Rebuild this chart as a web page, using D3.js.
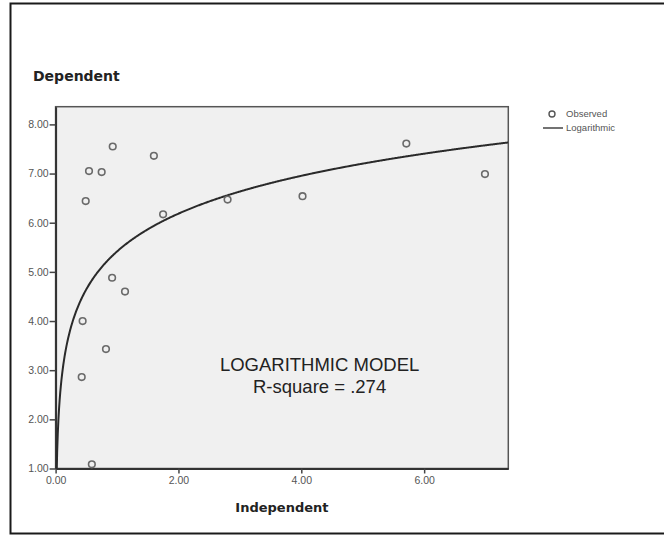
<!DOCTYPE html>
<html>
<head>
<meta charset="utf-8">
<script src="https://cdn.jsdelivr.net/npm/d3@7"></script>
<style>
  body { margin: 0; background: #fff; }
  svg { display: block; }
</style>
</head>
<body>
<div id="chart"></div>
<script>
const independent = [0.93, 1.60, 0.544, 0.75, 0.49, 1.75, 2.80, 0.92, 1.13, 0.44, 0.82, 0.425, 0.59, 4.02, 5.71, 6.99];
const dependent   = [7.55, 7.36, 7.05, 7.03, 6.44, 6.17, 6.47, 4.88, 4.60, 4.00, 3.43, 2.86, 1.085, 6.54, 7.61, 6.99];

// Ticks y etiquetas
const xTicks = [0, 2, 4, 6];
const yTicks = [1, 2, 3, 4, 5, 6, 7, 8];
const xDomain = [0, 7.37];
const yDomain = [1, 8.36];
const legendLabels = ["Observed", "Logarithmic"];
const modelLines = ["LOGARITHMIC MODEL", "R-square = .274"];

const points = independent.map((x, i) => ({ x, y: dependent[i] }));

// Ajuste logarítmico y = b0 + b1*ln(x) por mínimos cuadrados
const lx = points.map(d => Math.log(d.x));
const mx = d3.mean(lx);
const my = d3.mean(dependent);
const sxy = d3.sum(points, (d, i) => (lx[i] - mx) * (d.y - my));
const sxx = d3.sum(lx, v => (v - mx) * (v - mx));
const b1 = sxy / sxx;
const b0 = my - b1 * mx;

const width = 664;
const height = 537;
const margin = { top: 106.7, right: 155.7, bottom: 68.5, left: 55.6 };
const chartWidth = width - margin.left - margin.right;
const chartHeight = height - margin.top - margin.bottom;

const svg = d3.select("#chart")
    .append("svg")
    .attr("width", width)
    .attr("height", height);

// Marco exterior
svg.append("rect")
    .attr("x", 10.5)
    .attr("y", 3.5)
    .attr("width", 700)
    .attr("height", 530)
    .attr("fill", "none")
    .attr("stroke", "#1a1a1a")
    .attr("stroke-width", 2);

const g = svg.append("g")
    .attr("transform", `translate(${margin.left},${margin.top})`);

const xScale = d3.scaleLinear().domain(xDomain).range([0, chartWidth]);
const yScale = d3.scaleLinear().domain(yDomain).range([chartHeight, 0]);

// Fondo del área del gráfico
g.append("rect")
    .attr("width", chartWidth)
    .attr("height", chartHeight)
    .attr("fill", "#f0f0f0")
    .attr("stroke", "#555")
    .attr("stroke-width", 1.5);

g.append("defs").append("clipPath")
    .attr("id", "clip")
    .append("rect")
    .attr("width", chartWidth)
    .attr("height", chartHeight);

// Ejes
const xAxis = d3.axisBottom(xScale)
    .tickValues(xTicks)
    .tickFormat(d3.format(".2f"))
    .tickSizeInner(5)
    .tickSizeOuter(0);
const yAxis = d3.axisLeft(yScale)
    .tickValues(yTicks)
    .tickFormat(d3.format(".2f"))
    .tickSizeInner(6)
    .tickSizeOuter(0);

const gx = g.append("g")
    .attr("transform", `translate(0,${chartHeight})`)
    .call(xAxis);
const gy = g.append("g").call(yAxis);

[gx, gy].forEach(ax => {
    ax.select(".domain").attr("stroke", "#333").attr("stroke-width", 2);
    ax.selectAll(".tick line").attr("stroke", "#444").attr("stroke-width", 1.5);
    ax.selectAll(".tick text")
        .attr("fill", "#555")
        .style("font-family", "'Liberation Sans', Arial, sans-serif")
        .style("font-size", "10.5px");
});
gx.selectAll(".tick text").attr("dy", "0.9em").attr("y", 6);
gy.selectAll(".tick text").attr("x", -7);

// Curva del modelo
const curveXs = d3.range(0.005, xDomain[1] + 0.001, 0.01);
const line = d3.line()
    .x(d => xScale(d))
    .y(d => yScale(b0 + b1 * Math.log(d)));

g.append("path")
    .datum(curveXs)
    .attr("clip-path", "url(#clip)")
    .attr("fill", "none")
    .attr("stroke", "#2a2a2a")
    .attr("stroke-width", 2)
    .attr("d", line);

// Puntos observados
g.selectAll(".pt")
    .data(points)
    .enter()
    .append("circle")
    .attr("class", "pt")
    .attr("cx", d => xScale(d.x))
    .attr("cy", d => yScale(d.y))
    .attr("r", 3.3)
    .attr("fill", "none")
    .attr("stroke", "#6a6a6a")
    .attr("stroke-width", 1.6);

// Texto del modelo
g.selectAll(".model-text")
    .data(modelLines)
    .enter()
    .append("text")
    .attr("class", "model-text")
    .attr("x", 264)
    .attr("y", (d, i) => 264.5 + i * 22)
    .attr("text-anchor", "middle")
    .attr("fill", "#222")
    .style("font-family", "'Liberation Sans', Arial, sans-serif")
    .style("font-size", "18.5px")
    .text(d => d);

// Títulos de ejes
svg.append("text")
    .attr("x", 33)
    .attr("y", 81)
    .attr("fill", "#222")
    .style("font-family", "'DejaVu Sans', sans-serif")
    .style("font-weight", "bold")
    .style("font-size", "14px")
    .text("Dependent");

svg.append("text")
    .attr("x", margin.left + chartWidth / 2)
    .attr("y", 512)
    .attr("text-anchor", "middle")
    .attr("fill", "#222")
    .style("font-family", "'DejaVu Sans', sans-serif")
    .style("font-weight", "bold")
    .style("font-size", "13px")
    .text("Independent");

// Leyenda
const legend = svg.append("g")
    .attr("transform", "translate(543,114)");

legend.append("circle")
    .attr("cx", 9)
    .attr("cy", 0)
    .attr("r", 3)
    .attr("fill", "none")
    .attr("stroke", "#555")
    .attr("stroke-width", 1.4);

legend.append("line")
    .attr("x1", 0)
    .attr("x2", 20)
    .attr("y1", 14)
    .attr("y2", 14)
    .attr("stroke", "#444")
    .attr("stroke-width", 1.5);

legend.selectAll(".legend-text")
    .data(legendLabels)
    .enter()
    .append("text")
    .attr("class", "legend-text")
    .attr("x", 23)
    .attr("y", (d, i) => i * 14)
    .attr("dy", "0.35em")
    .attr("fill", "#555")
    .style("font-family", "'Liberation Sans', Arial, sans-serif")
    .style("font-size", "9.5px")
    .text(d => d);
</script>
</body>
</html>
